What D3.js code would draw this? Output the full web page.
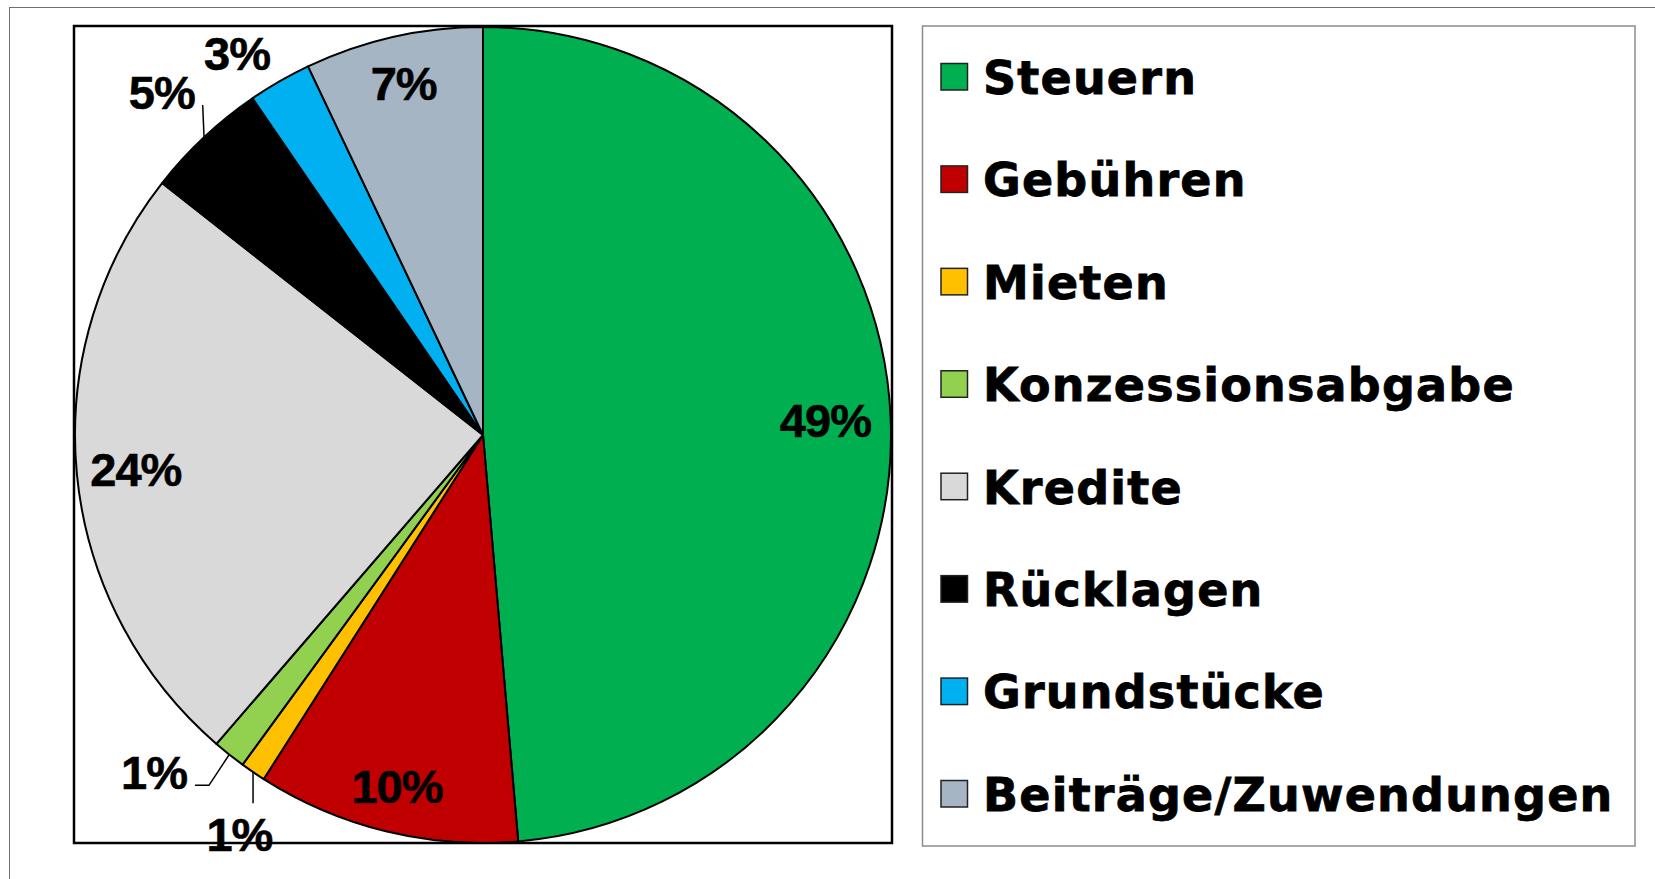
<!DOCTYPE html>
<html>
<head>
<meta charset="utf-8">
<script src="https://cdn.jsdelivr.net/npm/d3@7"></script>
<style>
  html, body { margin: 0; padding: 0; background: #fff; }
  svg { display: block; }
</style>
</head>
<body>
<svg id="chart"></svg>
<script>
// Einnahmen nach Art (Anteile in %)
const categories = ["Steuern", "Gebühren", "Mieten", "Konzessionsabgabe",
  "Kredite", "Rücklagen", "Grundstücke", "Beiträge/Zuwendungen"];
const values = [48.6, 10.4, 1.0, 1.3, 24.25, 4.85, 2.5, 7.05];
const pctLabels = ["49%", "10%", "1%", "1%", "24%", "5%", "3%", "7%"];
const colors = ["#00b050", "#c00000", "#ffc000", "#92d050",
  "#d9d9d9", "#000000", "#00b0f0", "#a6b5c4"];

const width = 1655, height = 879;
const svg = d3.select("#chart").attr("width", width).attr("height", height);

// outer frame (only top/left visible)
svg.append("line").attr("x1", 9).attr("x2", width).attr("y1", 7.5).attr("y2", 7.5)
  .attr("stroke", "#6f6f6f").attr("stroke-width", 1);
svg.append("line").attr("x1", 9.5).attr("x2", 9.5).attr("y1", 7).attr("y2", height)
  .attr("stroke", "#6f6f6f").attr("stroke-width", 1);

// plot area box
const plot = {x: 74, y: 26, w: 818, h: 817};
svg.append("rect")
  .attr("x", plot.x).attr("y", plot.y).attr("width", plot.w).attr("height", plot.h)
  .attr("fill", "#fff").attr("stroke", "#000").attr("stroke-width", 2.5);

const cx = plot.x + plot.w / 2, cy = plot.y + plot.h / 2 + 0.5;
const radius = 408;

const pie = d3.pie().sort(null).value(d => d);
const arcs = pie(values);
const arc = d3.arc().innerRadius(0).outerRadius(radius);

const g = svg.append("g").attr("transform", `translate(${cx},${cy})`);

g.selectAll("path.slice")
  .data(arcs)
  .enter()
  .append("path")
  .attr("class", "slice")
  .attr("d", arc)
  .attr("fill", (d, i) => colors[i])
  .attr("stroke", "#000")
  .attr("stroke-width", 2)
  .attr("stroke-linejoin", "round");

// labels
const labelFont = "'Liberation Sans', Arial, sans-serif";
const capH = 34;

// label angles: slice middle, small neighbours pushed apart a bit
const labelAngle = arcs.map(a => (a.startAngle + a.endAngle) / 2);
const minSep = 12.9 * Math.PI / 180;
for (let i = 0; i < arcs.length - 1; i++) {
  if (values[i] < 3 && values[i + 1] < 3) {
    const diff = labelAngle[i + 1] - labelAngle[i];
    if (diff < minSep) {
      const deficit = minSep - diff;
      labelAngle[i] -= deficit / 3;
      labelAngle[i + 1] += deficit * 2 / 3;
    }
  }
}

arcs.forEach((a, i) => {
  const mid = (a.startAngle + a.endAngle) / 2;
  let ang = labelAngle[i];
  const inside = values[i] > 6;

  const t = g.append("text")
    .attr("text-anchor", "middle")
    .attr("dy", "0.36em")
    .style("font-family", labelFont)
    .style("font-weight", "bold")
    .style("font-size", "47px")
    .style("letter-spacing", "-1px")
    .attr("fill", "#000")
    .attr("stroke", "#000")
    .attr("stroke-width", 0.6)
    .text(pctLabels[i]);

  let lx, ly;
  if (inside) {
    const f = values[i] > 40 ? 0.84 : (values[i] > 15 ? 0.855 : 0.885);
    lx = Math.sin(ang) * radius * f;
    ly = -Math.cos(ang) * radius * f;
  } else {
    const w = t.node().getComputedTextLength();
    const gap = values[i] < 2 ? 28 : (values[i] < 3 ? 14 : 27);
    const place = th => {
      const ux = Math.sin(th), uy = -Math.cos(th);
      const support = Math.abs(ux) * w / 2 + Math.abs(uy) * capH / 2;
      const dist = radius + gap + support;
      return [ux * dist, uy * dist];
    };
    [lx, ly] = place(ang);
    // keep the label inside the plot area: slide it along the circle
    const topLimit = plot.y + 10 - cy + capH / 2;
    let guard = 0;
    while (ly < topLimit && guard < 200) {
      ang += (ang > Math.PI ? -1 : 1) * 0.1 * Math.PI / 180;
      [lx, ly] = place(ang);
      guard++;
    }

    // leader lines for the labels that sit away from the edge
    if (values[i] < 2 || (values[i] > 4 && values[i] < 6)) {
      const ex = Math.sin(mid) * radius, ey = -Math.cos(mid) * radius;
      let pts;
      if (values[i] > 4) {
        pts = [[ex, ey], [lx + w / 2 + 8, ly + capH / 2 - 4]];
      } else if (-Math.cos(mid) > 0.8) {
        pts = [[ex, ey], [ex, ly - capH / 2 - 14]];
      } else {
        pts = [[ex, ey], [lx + w / 2 + 22, ly + capH / 2 - 4], [lx + w / 2 + 8, ly + capH / 2 - 4]];
      }
      g.append("path")
        .attr("d", d3.line()(pts))
        .attr("fill", "none")
        .attr("stroke", "#000")
        .attr("stroke-width", 1.5);
    }
  }
  t.attr("x", lx).attr("y", ly);
  t.raise();
});

// legend
const legend = {x: 922.5, y: 26, w: 712.5, h: 820};
svg.append("rect")
  .attr("x", legend.x).attr("y", legend.y).attr("width", legend.w).attr("height", legend.h)
  .attr("fill", "#fff").attr("stroke", "#8c8c8c").attr("stroke-width", 1.5);

const rowY = d3.scalePoint().domain(categories).range([77, 794]);

const items = svg.selectAll("g.item")
  .data(categories)
  .enter()
  .append("g")
  .attr("class", "item")
  .attr("transform", d => `translate(0,${rowY(d)})`);

items.append("rect")
  .attr("x", 941).attr("y", -13.5)
  .attr("width", 26.5).attr("height", 26.5)
  .attr("fill", (d, i) => colors[i])
  .attr("stroke", "#222")
  .attr("stroke-width", 1.5);

items.append("text")
  .attr("x", 983)
  .attr("dy", "0.365em")
  .style("font-family", "'DejaVu Sans', Verdana, sans-serif")
  .style("font-weight", "bold")
  .style("font-size", "46px")
  .style("letter-spacing", "1.2px")
  .attr("fill", "#000")
  .attr("stroke", "#000")
  .attr("stroke-width", 0.8)
  .text(d => d);
</script>
</body>
</html>
